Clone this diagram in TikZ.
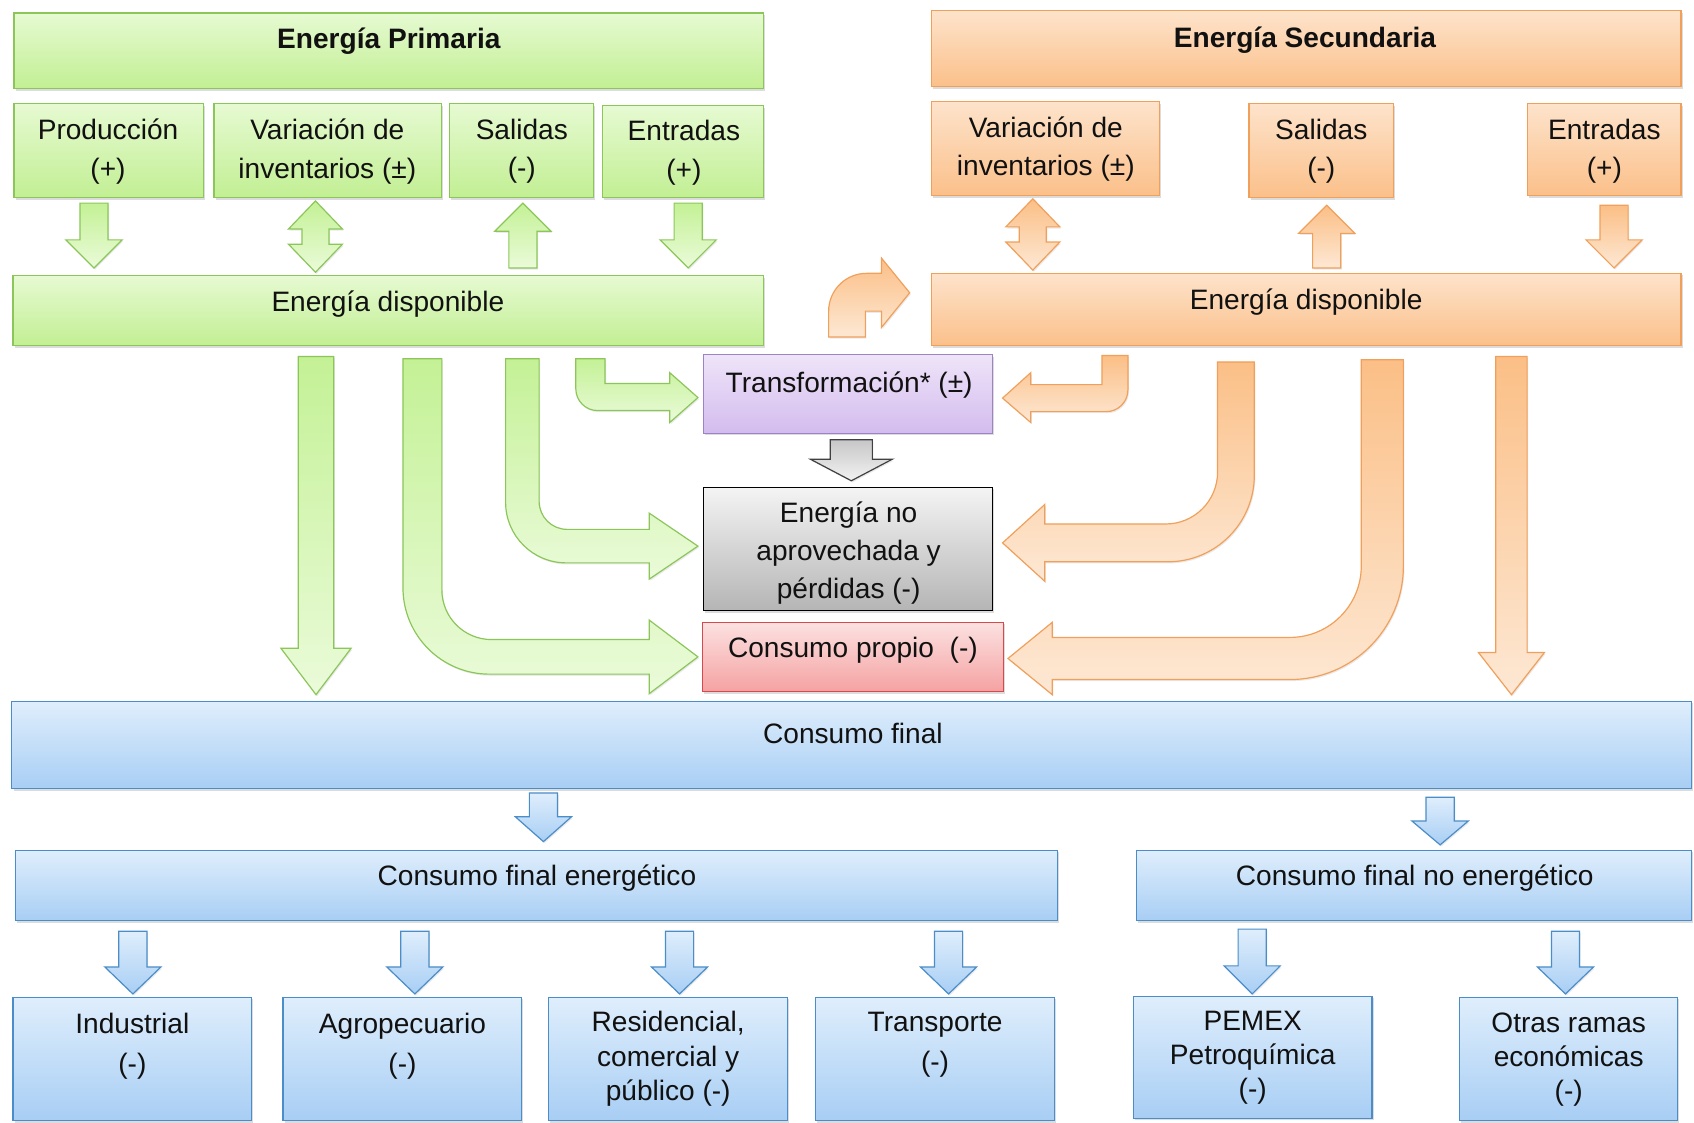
\documentclass[tikz,border=0pt]{standalone}
\usepackage{fontspec}
\setmainfont{Liberation Sans}
\usetikzlibrary{shadows}
\definecolor{gT}{HTML}{E6FAD2}\definecolor{gB}{HTML}{C2EF93}\definecolor{gD}{HTML}{8CC65A}
\definecolor{gA}{HTML}{C4F196}\definecolor{gL}{HTML}{EAFBD9}
\definecolor{oT}{HTML}{FDE3CB}\definecolor{oB}{HTML}{FBC08A}\definecolor{oD}{HTML}{F0A05A}
\definecolor{oA}{HTML}{FBBF86}\definecolor{oL}{HTML}{FDE8D4}
\definecolor{pT}{HTML}{EFE4F9}\definecolor{pB}{HTML}{D3BCEE}\definecolor{pD}{HTML}{9D82C6}
\definecolor{kT}{HTML}{F4F4F4}\definecolor{kB}{HTML}{B5B5B5}
\definecolor{rT}{HTML}{FCE1E1}\definecolor{rB}{HTML}{F5A2A2}\definecolor{rD}{HTML}{D9484A}
\definecolor{bT}{HTML}{DFEEFC}\definecolor{bB}{HTML}{A8CEF4}\definecolor{bD}{HTML}{4A8DC8}
\definecolor{txtc}{HTML}{111111}
\tikzset{
 box/.style={rectangle, draw, line width=1.1pt, inner sep=0pt, outer sep=0pt, anchor=north west,
   drop shadow={opacity=0.3, shadow xshift=1.5pt, shadow yshift=-2pt, fill=black!45}},
 gbox/.style={box, draw=gD, top color=gT, bottom color=gB},
 obox/.style={box, draw=oD, top color=oT, bottom color=oB},
 pbox/.style={box, draw=pD, top color=pT, bottom color=pB},
 kbox/.style={box, draw=black, top color=kT, bottom color=kB},
 rbox/.style={box, draw=rD, top color=rT, bottom color=rB},
 bbox/.style={box, draw=bD, top color=bT, bottom color=bB},
 arr/.style={line width=1.1pt, line join=miter,
   drop shadow={opacity=0.2, shadow xshift=1pt, shadow yshift=-1.5pt, fill=black!40}},
 garr/.style={arr, draw=gD, top color=gA, bottom color=gL},
 oarr/.style={arr, draw=oD, top color=oA, bottom color=oL},
 karr/.style={arr, draw=black!75, top color=black!22, bottom color=black!5},
 barr/.style={arr, draw=bD, top color=bT, bottom color=bB},
 txt/.style={font=\fontsize{26}{36}\selectfont, text=txtc, align=center, inner sep=0pt},
}
% box: style, x1, y1, x2, y2, name
\newcommand\bx[6]{\node[#1, minimum width={(#4)-(#2)}, minimum height={(#5)-(#3)}] (#6) at (#2,#3) {};}
% straight block arrow: style, x, ystart, yheadbase, ytip, stem half, head half
\newcommand\varr[7]{\path[#1] ({#2-#6},#3) -- ({#2-#6},#4) -- ({#2-#7},#4) -- (#2,#5) -- ({#2+#7},#4) -- ({#2+#6},#4) -- ({#2+#6},#3) -- cycle;}
% double block arrow: style, x, tip1, base1, base2, tip2, stem half, head half
\newcommand\dvarr[8]{\path[#1] (#2,#3) -- ({#2+#8},#4) -- ({#2+#7},#4) -- ({#2+#7},#5) -- ({#2+#8},#5) -- (#2,#6) -- ({#2-#8},#5) -- ({#2-#7},#5) -- ({#2-#7},#4) -- ({#2-#8},#4) -- cycle;}
\begin{document}
\begin{tikzpicture}[x=1pt,y=-1pt]
\useasboundingbox (0,0) rectangle (1568,1039);
\fill[white] (0,0) rectangle (1568,1039);
% ---------- boxes ----------
\bx{gbox}{13}{12}{707}{82}{ep}
\bx{gbox}{13}{96}{188}{183}{prod}
\bx{gbox}{198}{96}{409}{183}{vi1}
\bx{gbox}{416}{96}{549}{183}{sal1}
\bx{gbox}{558}{98}{707}{183}{ent1}
\bx{gbox}{12}{255}{707}{320}{ed1}
\bx{obox}{862}{10}{1556}{80}{es}
\bx{obox}{862}{94}{1073}{181}{vi2}
\bx{obox}{1156}{96}{1290}{183}{sal2}
\bx{obox}{1414}{96}{1556}{181}{ent2}
\bx{obox}{862}{253}{1556}{320}{ed2}
\bx{pbox}{651}{328}{919}{401}{tr}
\bx{kbox}{651}{451}{919}{565}{ena}
\bx{rbox}{650}{576}{929}{640}{cp}
\bx{bbox}{11}{649}{1566}{730}{cf}
\bx{bbox}{14}{787}{979}{852}{cfe}
\bx{bbox}{1052}{787}{1566}{852}{cfne}
\bx{bbox}{12}{923}{233}{1037}{ind}
\bx{bbox}{262}{923}{483}{1037}{agr}
\bx{bbox}{508}{923}{729}{1037}{res}
\bx{bbox}{755}{923}{976}{1037}{tra}
\bx{bbox}{1049}{922}{1270}{1035}{pem}
\bx{bbox}{1351}{923}{1553}{1037}{otr}
% ---------- small arrows (top) ----------
\varr{garr}{87}{188}{222}{248}{13}{26}
\dvarr{garr}{292}{186}{212}{226}{252}{12.5}{25}
\varr{garr}{484}{248}{214}{188}{13}{26}
\varr{garr}{637}{188}{222}{248}{13}{26}
\dvarr{oarr}{956}{184}{210}{224}{250}{12.5}{25}
\varr{oarr}{1228}{248}{216}{190}{13}{26}
\varr{oarr}{1494}{190}{222}{248}{13}{26}
% curved arrow into secondary available energy
\path[oarr] (767,312) -- (767,288) .. controls (767,268.7) and (782.7,253) .. (802,253) -- (816,253) -- (816,239) -- (842,271) -- (816,303) -- (816,288) -- (801,288) -- (801,312) -- cycle;
% ---------- big straight arrows ----------
\varr{garr}{292.5}{330}{600}{643}{16.5}{32.5}
\varr{oarr}{1399}{330}{604}{643}{14.5}{30.5}
\varr{karr}{788}{407}{425}{445}{19.5}{38}
% ---------- green bent arrows ----------
\path[garr] (533,332) -- (533,360) .. controls (533,371) and (542,380) .. (553,380) -- (620,380) -- (620,391) -- (646,368) -- (620,345) -- (620,355) -- (560,355) -- (560,332) -- cycle;
\path[garr] (468,332) -- (468,465) .. controls (468,495.9) and (493.1,521) .. (524,521) -- (601,521) -- (601,536) -- (646,505.5) -- (601,475) -- (601,490) -- (525,490) .. controls (510.6,490) and (499,478.4) .. (499,464) -- (499,332) -- cycle;
\path[garr] (373,332) -- (373,544) .. controls (373,588.2) and (408.8,624) .. (453,624) -- (601,624) -- (601,642) -- (646,608) -- (601,574) -- (601,592) -- (455,592) .. controls (429.6,592) and (409,571.4) .. (409,546) -- (409,332) -- cycle;
% ---------- orange bent arrows ----------
\path[oarr] (1044,329) -- (1044,361) .. controls (1044,372) and (1035,381) .. (1024,381) -- (954,381) -- (954,391) -- (928,368.5) -- (954,345) -- (954,356) -- (1020,356) -- (1020,329) -- cycle;
\path[oarr] (1161,335) -- (1161,440) .. controls (1161,484.2) and (1125.2,520) .. (1081,520) -- (967,520) -- (967,538) -- (928,502.5) -- (967,467) -- (967,485) -- (1079,485) .. controls (1105.5,485) and (1127,463.5) .. (1127,437) -- (1127,335) -- cycle;
\path[oarr] (1299,333) -- (1299,524) .. controls (1299,582) and (1252,629) .. (1194,629) -- (974,629) -- (974,643) -- (933,609.5) -- (974,576) -- (974,590) -- (1194,590) .. controls (1230.4,590) and (1260,560.4) .. (1260,524) -- (1260,333) -- cycle;
% ---------- blue arrows ----------
\varr{barr}{503}{734}{756}{779}{13}{26}
\varr{barr}{1333}{738}{760}{782}{13}{26}
\varr{barr}{123}{862}{895}{920}{13}{26}
\varr{barr}{384}{862}{895}{920}{13}{26}
\varr{barr}{629}{862}{895}{920}{13}{26}
\varr{barr}{878}{862}{895}{920}{13}{26}
\varr{barr}{1159}{860}{894}{920}{13}{26}
\varr{barr}{1449}{862}{895}{920}{13}{26}
% ---------- texts ----------
\node[txt] (ep-t) at (360,38) {\textbf{Energía Primaria}};
\node[txt] (prod-t) at (100,140) {Producción\\(+)};
\node[txt] (vi1-t) at (303,140) {Variación de\\inventarios (±)};
\node[txt] (sal1-t) at (483,140) {Salidas\\(-)};
\node[txt] (ent1-t) at (633,141) {Entradas\\(+)};
\node[txt] (ed1-t) at (359,281) {Energía disponible};
\node[txt] (es-t) at (1208,37) {\textbf{Energía Secundaria}};
\node[txt] (vi2-t) at (968,138) {Variación de\\inventarios (±)};
\node[txt] (sal2-t) at (1223,140) {Salidas\\(-)};
\node[txt] (ent2-t) at (1485,140) {Entradas\\(+)};
\node[txt] (ed2-t) at (1209,280) {Energía disponible};
\node[txt] (tr-t) at (786,356) {Transformación* (±)};
\node[txt, font=\fontsize{26}{35.5}\selectfont] (ena-t) at (785.5,512) {Energía no\\aprovechada y\\pérdidas (-)};
\node[txt] (cp-t) at (789.5,602) {Consumo propio\ \ (-)};
\node[txt] (cf-t) at (789.5,679) {Consumo final};
\node[txt] (cfe-t) at (497,813) {Consumo final energético};
\node[txt] (cfne-t) at (1309.5,813) {Consumo final no energético};
\node[txt, font=\fontsize{26}{37}\selectfont] (ind-t) at (122.5,968) {Industrial\\(-)};
\node[txt, font=\fontsize{26}{37}\selectfont] (agr-t) at (372.5,968) {Agropecuario\\(-)};
\node[txt, font=\fontsize{26}{31.5}\selectfont] (res-t) at (618.5,980) {Residencial,\\comercial y\\público (-)};
\node[txt, font=\fontsize{26}{37}\selectfont] (tra-t) at (865.5,967) {Transporte\\(-)};
\node[txt, font=\fontsize{26}{31.5}\selectfont] (pem-t) at (1159.5,979) {PEMEX\\Petroquímica\\(-)};
\node[txt, font=\fontsize{26}{31.5}\selectfont] (otr-t) at (1452,981) {Otras ramas\\económicas\\(-)};
\end{tikzpicture}
\end{document}
